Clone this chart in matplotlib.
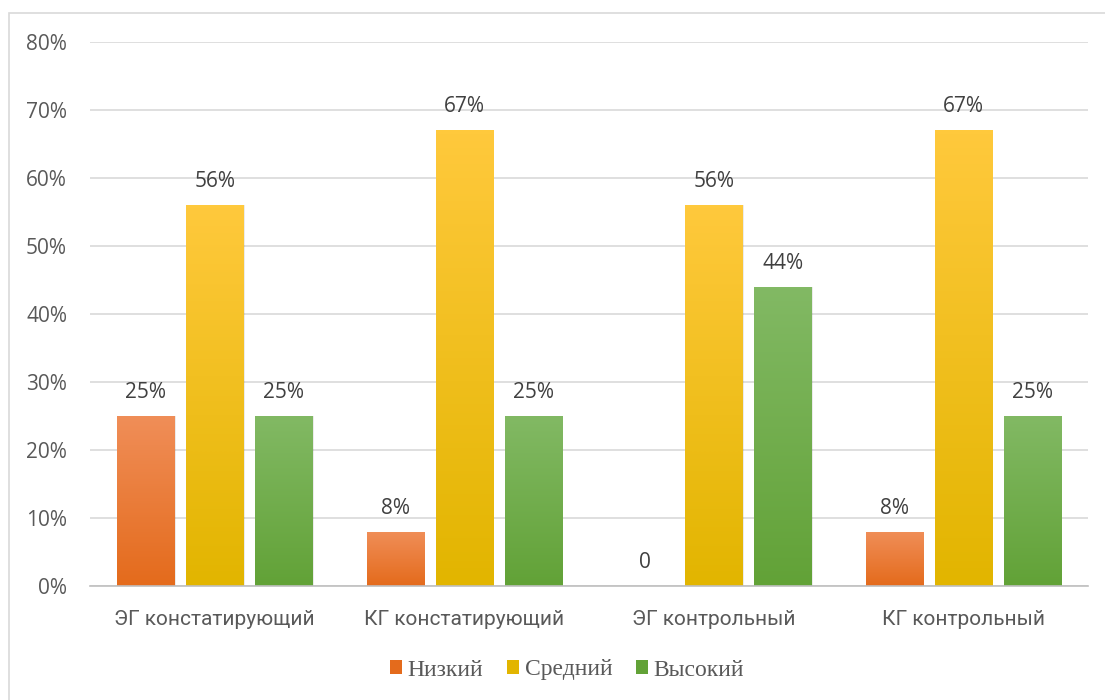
import numpy as np
import matplotlib
matplotlib.use("Agg")
import matplotlib.pyplot as plt
from matplotlib.patches import Rectangle
from matplotlib.colors import LinearSegmentedColormap

categories = ["ЭГ констатирующий", "КГ констатирующий", "ЭГ контрольный", "КГ контрольный"]
series = ["Низкий", "Средний", "Высокий"]
low = [0.25, 0.08, 0.0, 0.08]
mid = [0.56, 0.67, 0.56, 0.67]
high = [0.25, 0.25, 0.44, 0.25]
labels_low = ["25%", "8%", "0", "8%"]
labels_mid = ["56%", "67%", "56%", "67%"]
labels_high = ["25%", "25%", "44%", "25%"]

# top colour, bottom colour of each gradient
grad = [("#F08E58", "#E46B1C"), ("#FFC93C", "#E2B500"), ("#82B964", "#62A237")]

fig = plt.figure(figsize=(11.05, 7.0), dpi=100)
# chart border (only top and left are visible in the crop)
fig.patches.append(Rectangle((9 / 1105, -0.1), 1.2, 1 - 13 / 700 + 0.1, transform=fig.transFigure,
                             fill=False, edgecolor="#d9d9d9", linewidth=1.2))
ax = fig.add_axes([90 / 1105, 1 - 586 / 700, (1088 - 90) / 1105, (586 - 42) / 700])

x = np.arange(len(categories))
width = 0.2285
step = 0.2766
label_col = "#404040"
tick_col = "#595959"
tick_font = "Open Sans"

for k, (vals, labs) in enumerate([(low, labels_low), (mid, labels_mid), (high, labels_high)]):
    cmap = LinearSegmentedColormap.from_list("g%d" % k, [grad[k][1], grad[k][0]])
    pos = x + (k - 1) * step
    for xi, v, lab in zip(pos, vals, labs):
        if v > 0:
            # soft shadow
            ax.add_patch(Rectangle((xi - width / 2 + 0.006, 0), width, v, facecolor="#000000",
                                   alpha=0.08, edgecolor="none", zorder=2))
            rect = Rectangle((xi - width / 2, 0), width, v, facecolor="none", edgecolor="none", zorder=3)
            ax.add_patch(rect)
            img = ax.imshow(np.linspace(0, 1, 100).reshape(-1, 1), cmap=cmap, aspect="auto",
                            extent=(xi - width / 2, xi + width / 2, 0, v), origin="lower",
                            zorder=3, interpolation="bilinear")
            img.set_clip_path(rect)
        ax.annotate(lab, (xi, v), xytext=(0, 13), textcoords="offset points", ha="center",
                    va="baseline", fontsize=15, color=label_col, family=tick_font)

ax.set_xlim(-0.5, 3.5)
ax.set_ylim(0, 0.8)
ax.set_yticks(np.arange(0, 0.81, 0.1))
ax.set_yticklabels(["%d%%" % round(t * 100) for t in np.arange(0, 0.81, 0.1)],
                   fontsize=15, color=tick_col, family=tick_font)
ax.set_xticks(x)
ax.set_xticklabels(categories, fontsize=15, color=tick_col, family="Roboto")
ax.tick_params(length=0)
ax.tick_params(axis="x", pad=17)
ax.tick_params(axis="y", pad=16.5)
ax.grid(axis="y", color="#d9d9d9", linewidth=1.2)
ax.set_axisbelow(True)
for s in ["top", "right", "left"]:
    ax.spines[s].set_visible(False)
ax.spines["bottom"].set_color("#bfbfbf")
ax.spines["bottom"].set_linewidth(1.2)
ax.spines["bottom"].set_zorder(4)

handles = [Rectangle((0, 0), 1, 1, facecolor=grad[k][1], edgecolor="none") for k in range(3)]
fig.legend(handles, series, loc="center", bbox_to_anchor=(567 / 1105, 1 - 670 / 700), ncol=3,
           frameon=False, prop={"family": "Liberation Serif", "size": 17}, handlelength=0.5,
           handleheight=0.5, handletextpad=0.25, columnspacing=1.0, labelcolor=tick_col)

fig.savefig("out.png", dpi=100)
